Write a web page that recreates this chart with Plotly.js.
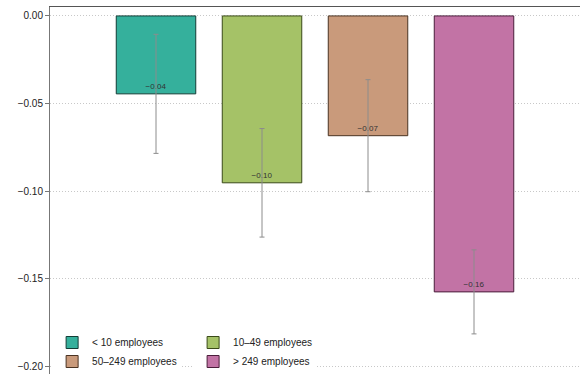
<!DOCTYPE html>
<html>
<head>
<meta charset="utf-8">
<script src="https://cdn.plot.ly/plotly-3.0.1.min.js"></script>
<style>html,body{margin:0;padding:0;background:#fff;}#chart{width:580px;height:376px;}</style>
</head>
<body>
<div id="chart"></div>
<script>
const categories = ["< 10 employees", "10\u201349 employees", "50\u2013249 employees", "> 249 employees"];
const values = [-0.0445, -0.0953, -0.0684, -0.1576];
const errors = [0.034, 0.031, 0.032, 0.024];
const fillColors = ["#35b09c", "#a5c267", "#c99a7b", "#c273a5"];
const lineColors = ["#123d36", "#3a4a18", "#4a3322", "#4a1e3b"];
const legendIds = ["legend", "legend2", "legend", "legend2"];
const yTicks = [0, -0.05, -0.10, -0.15, -0.20];

const fmt = v => v.toFixed(2).replace("-", "\u2212");

const traces = categories.map((c, i) => ({
  type: "bar",
  name: c,
  x: [c],
  y: [values[i]],
  width: 0.75,
  text: [fmt(values[i])],
  textposition: "inside",
  insidetextanchor: "end",
  textangle: 0,
  textfont: {size: 8, color: "#333", family: "Liberation Sans, Arial, sans-serif"},
  marker: {color: fillColors[i], line: {color: lineColors[i], width: 1}},
  error_y: {type: "data", array: [errors[i]], visible: true, color: "#8c8c8c", thickness: 1, width: 2.5},
  legend: legendIds[i],
  hoverinfo: "skip"
}));

const legendBase = {
  orientation: "v",
  bgcolor: "#fff",
  borderwidth: 0,
  font: {size: 10, color: "#222", family: "Liberation Sans, Arial, sans-serif"},
  yanchor: "top",
  y: 0.125,
  xanchor: "left",
  tracegroupgap: 0
};

const layout = {
  width: 580,
  height: 376,
  margin: {l: 50, r: 0, t: 7, b: 0},
  paper_bgcolor: "#fff",
  plot_bgcolor: "#fff",
  barmode: "overlay",
  showlegend: true,
  font: {family: "Liberation Sans, Arial, sans-serif", color: "#222"},
  xaxis: {
    type: "category",
    categoryarray: categories,
    range: [-1, 4],
    side: "top",
    showline: true,
    linecolor: "#555",
    linewidth: 1,
    showticklabels: false,
    ticks: "",
    showgrid: false,
    zeroline: false
  },
  yaxis: {
    range: [-0.2045, 0.0051],
    tickvals: yTicks,
    tickformat: ".2f",
    ticks: "outside",
    ticklen: 4,
    tickcolor: "#777",
    showline: true,
    linecolor: "#777",
    linewidth: 1,
    showgrid: true,
    gridcolor: "#c8c8c8",
    griddash: "1px,2px",
    gridwidth: 1,
    zeroline: false,
    tickfont: {size: 10, color: "#222"}
  },
  legend: Object.assign({}, legendBase, {x: 0.004}),
  legend2: Object.assign({}, legendBase, {x: 0.27})
};

Plotly.newPlot("chart", traces, layout, {displayModeBar: false, staticPlot: true});
</script>
</body>
</html>
